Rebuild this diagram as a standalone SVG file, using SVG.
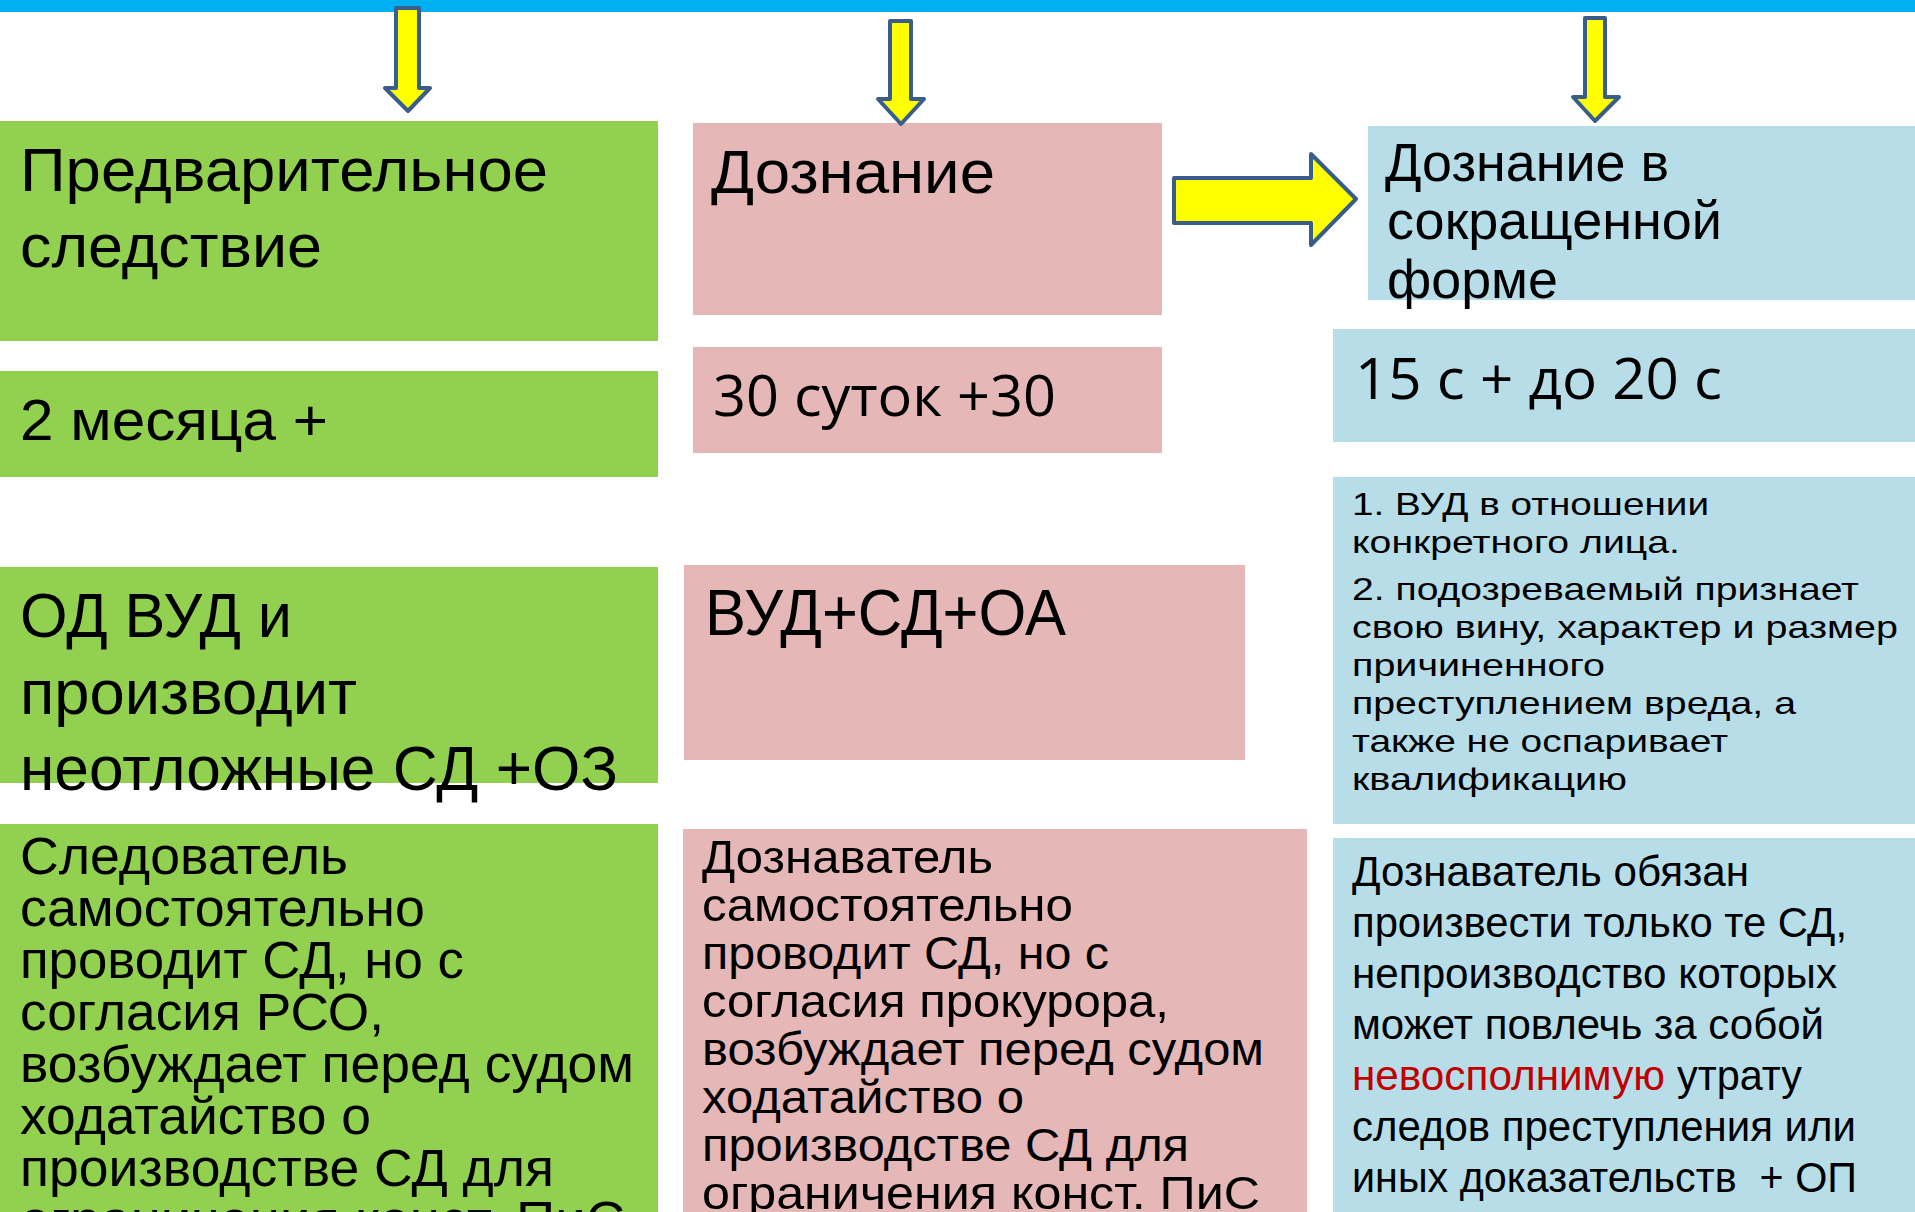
<svg xmlns="http://www.w3.org/2000/svg" width="1915" height="1212" viewBox="0 0 1915 1212">
<style>
.g{fill:#92D050}
.p{fill:#E5B7B7}
.b{fill:#B7DDE8}
.t{font-family:"Liberation Sans",Arial,sans-serif;fill:#000}
.c{font-family:"Open Sans","Liberation Sans",sans-serif;fill:#000}
.red{fill:#C00000}
.arr{fill:#FFFF00;stroke:#3A5E8C;stroke-width:4;stroke-linejoin:round}
</style>
<rect x="0" y="0" width="1915" height="12" fill="#00B0F0"/>

<g id="node-pred">
<rect class="g" x="0" y="121" width="658" height="220"/>
<text class="t" font-size="61" x="20" y="191" textLength="528" lengthAdjust="spacingAndGlyphs">Предварительное</text>
<text class="t" font-size="61" x="20" y="267" textLength="302" lengthAdjust="spacingAndGlyphs">следствие</text>
</g>
<g id="node-2mes">
<rect class="g" x="0" y="371" width="658" height="106"/>
<text class="t" font-size="58" x="20" y="440" textLength="308" lengthAdjust="spacingAndGlyphs">2 месяца +</text>
</g>
<g id="node-od">
<rect class="g" x="0" y="567" width="658" height="216"/>
<text class="t" font-size="63" x="20" y="637" textLength="272" lengthAdjust="spacingAndGlyphs">ОД ВУД и</text>
<text class="t" font-size="63" x="20" y="714" textLength="337" lengthAdjust="spacingAndGlyphs">производит</text>
<text class="t" font-size="63" x="20" y="790" textLength="598" lengthAdjust="spacingAndGlyphs">неотложные СД +ОЗ</text>
</g>
<g id="node-sled">
<rect class="g" x="0" y="824" width="658" height="388"/>
<text class="t" font-size="51" x="20" y="874" textLength="328" lengthAdjust="spacingAndGlyphs">Следователь</text>
<text class="t" font-size="51" x="20" y="926" textLength="405" lengthAdjust="spacingAndGlyphs">самостоятельно</text>
<text class="t" font-size="51" x="20" y="978" textLength="444" lengthAdjust="spacingAndGlyphs">проводит СД, но с</text>
<text class="t" font-size="51" x="20" y="1030" textLength="364" lengthAdjust="spacingAndGlyphs">согласия РСО,</text>
<text class="t" font-size="51" x="20" y="1082" textLength="614" lengthAdjust="spacingAndGlyphs">возбуждает перед судом</text>
<text class="t" font-size="51" x="20" y="1134" textLength="351" lengthAdjust="spacingAndGlyphs">ходатайство о</text>
<text class="t" font-size="51" x="20" y="1186" textLength="534" lengthAdjust="spacingAndGlyphs">производстве СД для</text>
<text class="t" font-size="51" x="20" y="1238" textLength="605" lengthAdjust="spacingAndGlyphs">ограничения конст. ПиС</text>
</g>

<g id="node-dozn">
<rect class="p" x="693" y="123" width="469" height="192"/>
<text class="t" font-size="61" x="711" y="193" textLength="284" lengthAdjust="spacingAndGlyphs">Дознание</text>
</g>
<g id="node-30">
<rect class="p" x="693" y="347" width="469" height="106"/>
<text class="c" font-size="57" x="713" y="416" textLength="343" lengthAdjust="spacingAndGlyphs">30 суток +30</text>
</g>
<g id="node-vud">
<rect class="p" x="684" y="565" width="561" height="195"/>
<text class="t" font-size="65" x="705" y="635" textLength="361" lengthAdjust="spacingAndGlyphs">ВУД+СД+ОА</text>
</g>
<g id="node-doznavatel">
<rect class="p" x="683" y="829" width="624" height="383"/>
<text class="t" font-size="47" x="702" y="873" textLength="291" lengthAdjust="spacingAndGlyphs">Дознаватель</text>
<text class="t" font-size="47" x="702" y="921" textLength="371" lengthAdjust="spacingAndGlyphs">самостоятельно</text>
<text class="t" font-size="47" x="702" y="969" textLength="407" lengthAdjust="spacingAndGlyphs">проводит СД, но с</text>
<text class="t" font-size="47" x="702" y="1017" textLength="467" lengthAdjust="spacingAndGlyphs">согласия прокурора,</text>
<text class="t" font-size="47" x="702" y="1065" textLength="562" lengthAdjust="spacingAndGlyphs">возбуждает перед судом</text>
<text class="t" font-size="47" x="702" y="1113" textLength="322" lengthAdjust="spacingAndGlyphs">ходатайство о</text>
<text class="t" font-size="47" x="702" y="1161" textLength="487" lengthAdjust="spacingAndGlyphs">производстве СД для</text>
<text class="t" font-size="47" x="702" y="1209" textLength="558" lengthAdjust="spacingAndGlyphs">ограничения конст. ПиС</text>
</g>

<g id="node-sokr">
<rect class="b" x="1368" y="126" width="547" height="174"/>
<text class="t" font-size="53" x="1385" y="181" textLength="284" lengthAdjust="spacingAndGlyphs">Дознание в</text>
<text class="t" font-size="53" x="1387" y="239" textLength="335" lengthAdjust="spacingAndGlyphs">сокращенной</text>
<text class="t" font-size="53" x="1387" y="298" textLength="171" lengthAdjust="spacingAndGlyphs">форме</text>
</g>
<g id="node-15">
<rect class="b" x="1333" y="329" width="582" height="113"/>
<text class="c" font-size="57" x="1355" y="399" textLength="367" lengthAdjust="spacingAndGlyphs">15 с + до 20 с</text>
</g>
<g id="node-usl">
<rect class="b" x="1333" y="477" width="582" height="347"/>
<text class="t" font-size="32" x="1352" y="515" textLength="357" lengthAdjust="spacingAndGlyphs">1. ВУД в отношении</text>
<text class="t" font-size="32" x="1352" y="553" textLength="328" lengthAdjust="spacingAndGlyphs">конкретного лица.</text>
<text class="t" font-size="32" x="1352" y="600" textLength="507" lengthAdjust="spacingAndGlyphs">2. подозреваемый признает</text>
<text class="t" font-size="32" x="1352" y="638" textLength="546" lengthAdjust="spacingAndGlyphs">свою вину, характер и размер</text>
<text class="t" font-size="32" x="1352" y="676" textLength="253" lengthAdjust="spacingAndGlyphs">причиненного</text>
<text class="t" font-size="32" x="1352" y="714" textLength="444" lengthAdjust="spacingAndGlyphs">преступлением вреда, а</text>
<text class="t" font-size="32" x="1352" y="752" textLength="376" lengthAdjust="spacingAndGlyphs">также не оспаривает</text>
<text class="t" font-size="32" x="1352" y="790" textLength="275" lengthAdjust="spacingAndGlyphs">квалификацию</text>
</g>
<g id="node-obyazan">
<rect class="b" x="1333" y="838" width="582" height="374"/>
<text class="t" font-size="42" x="1352" y="886" textLength="397" lengthAdjust="spacingAndGlyphs">Дознаватель обязан</text>
<text class="t" font-size="42" x="1352" y="937" textLength="495" lengthAdjust="spacingAndGlyphs">произвести только те СД,</text>
<text class="t" font-size="42" x="1352" y="988" textLength="485" lengthAdjust="spacingAndGlyphs">непроизводство которых</text>
<text class="t" font-size="42" x="1352" y="1039" textLength="472" lengthAdjust="spacingAndGlyphs">может повлечь за собой</text>
<text class="t red" font-size="42" x="1352" y="1090" textLength="313" lengthAdjust="spacingAndGlyphs">невосполнимую</text>
<text class="t" font-size="42" x="1677" y="1090" textLength="125" lengthAdjust="spacingAndGlyphs">утрату</text>
<text class="t" font-size="42" x="1352" y="1141" textLength="504" lengthAdjust="spacingAndGlyphs">следов преступления или</text>
<text class="t" font-size="42" x="1352" y="1192" textLength="505" lengthAdjust="spacingAndGlyphs" xml:space="preserve">иных доказательств  + ОП</text>
</g>

<g id="connectors">
<path class="arr" d="M396,8 H419 V88 H430 L408,111 L385,88 H396 Z"/>
<path class="arr" d="M890,21 H911 V99 H924 L901,124 L878,99 H890 Z"/>
<path class="arr" d="M1585,18 H1605 V97 H1619 L1595,121 L1573,97 H1585 Z"/>
<path class="arr" d="M1174,178 H1311 V154 L1356,199 L1311,245 V223 H1174 Z"/>
</g>
</svg>
